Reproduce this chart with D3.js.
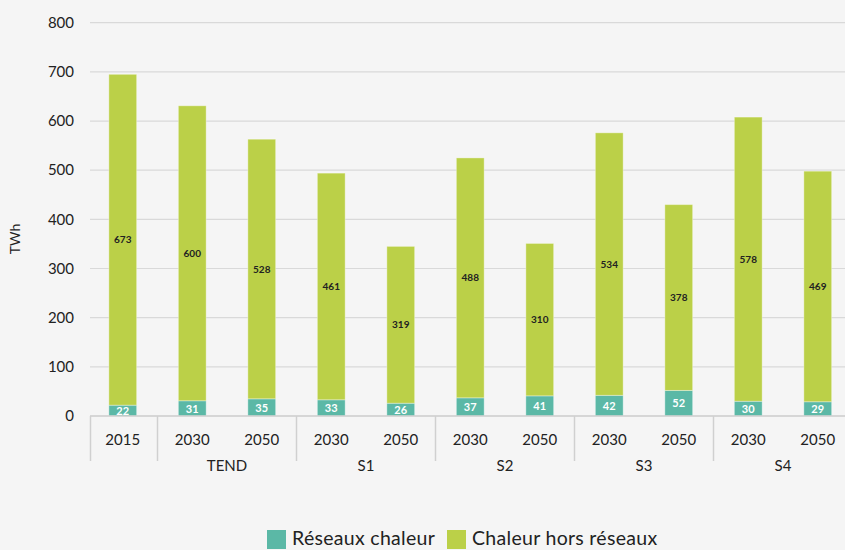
<!DOCTYPE html>
<html><head><meta charset="utf-8">
<script src="https://cdn.jsdelivr.net/npm/d3@7/dist/d3.min.js"></script>
<style>
html,body{margin:0;padding:0;background:#f5f5f5;}
svg{display:block;font-family:Lato, "Open Sans", sans-serif;}
</style></head>
<body><svg id="chart" width="845" height="550"></svg>
<script>
const years = ["2015","2030","2050","2030","2050","2030","2050","2030","2050","2030","2050"];
const groups = ["","TEND","TEND","S1","S1","S2","S2","S3","S3","S4","S4"];
const reseaux = [22,31,35,33,26,37,41,42,52,30,29];
const horsReseaux = [673,600,528,461,319,488,310,534,378,578,469];
const yTicks = [0,100,200,300,400,500,600,700,800];
const seriesNames = ["Réseaux chaleur","Chaleur hors réseaux"];
const colors = ["#5bb8a6","#bbd048"];

const svg = d3.select("#chart");
const ids = years.map((d,i)=>i);
const x = d3.scaleBand().domain(ids).range([88,852.5]).paddingInner(0.6).paddingOuter(0.3);
const y = d3.scaleLinear().domain([0,800]).range([416,22.7]);
const gridLeft = 90, gridRight = 845;

// gridlines
svg.append("g").selectAll("line").data(yTicks).join("line")
  .attr("x1",gridLeft).attr("x2",gridRight)
  .attr("y1",d=>y(d)).attr("y2",d=>y(d))
  .attr("stroke","#d9d9d9").attr("stroke-width",1.2);

// y labels
svg.append("g").selectAll("text").data(yTicks).join("text")
  .attr("x",74).attr("y",d=>y(d)).attr("dy","0.35em")
  .attr("text-anchor","end").attr("font-size",15).attr("fill","#222")
  .text(d=>d);

svg.append("text").attr("transform","translate(20,"+y(360)+") rotate(-90)")
  .attr("text-anchor","middle").attr("font-size",14).attr("fill","#222").text("TWh");

// stacked bars
const data = ids.map(i=>({i, r:reseaux[i], h:horsReseaux[i]}));
const bars = svg.append("g");
bars.selectAll("rect.r").data(data).join("rect").attr("class","r")
  .attr("x",d=>x(d.i)).attr("width",x.bandwidth())
  .attr("y",d=>y(d.r)).attr("height",d=>y(0)-y(d.r))
  .attr("fill",colors[0]).attr("stroke","rgba(255,255,255,0.35)").attr("stroke-width",1);
bars.selectAll("rect.h").data(data).join("rect").attr("class","h")
  .attr("x",d=>x(d.i)).attr("width",x.bandwidth())
  .attr("y",d=>y(d.r+d.h)).attr("height",d=>y(d.r)-y(d.r+d.h))
  .attr("fill",colors[1]).attr("stroke","rgba(255,255,255,0.35)").attr("stroke-width",1);

// labels
bars.selectAll("text.r").data(data).join("text").attr("class","r")
  .attr("x",d=>x(d.i)+x.bandwidth()/2).attr("y",d=>y(d.r/2)).attr("dy","0.38em")
  .attr("text-anchor","middle").attr("font-size",11).attr("font-weight",700).attr("fill","#fff")
  .text(d=>d.r);
bars.selectAll("text.h").data(data).join("text").attr("class","h")
  .attr("x",d=>x(d.i)+x.bandwidth()/2).attr("y",d=>y(d.r+d.h/2)).attr("dy","0.35em")
  .attr("text-anchor","middle").attr("font-size",10).attr("font-weight",700).attr("fill","#222")
  .text(d=>d.h);

// baseline
svg.append("line").attr("x1",gridLeft).attr("x2",gridRight).attr("y1",y(0)).attr("y2",y(0))
  .attr("stroke","#d0d0d0").attr("stroke-width",1.5);

// x axis year labels
svg.append("g").selectAll("text").data(ids).join("text")
  .attr("x",i=>x(i)+x.bandwidth()/2).attr("y",440).attr("dy","0.35em")
  .attr("text-anchor","middle").attr("font-size",15).attr("fill","#222")
  .text(i=>years[i]);

// group separators and labels
const step = x.step();
const groupInfo = [];
ids.forEach(i=>{
  const g = groups[i];
  const last = groupInfo[groupInfo.length-1];
  if(!last || last.name!==g) groupInfo.push({name:g,start:i,end:i});
  else last.end=i;
});
const bandStart = i=>x(i)-(step-x.bandwidth())/2;
const seps = groupInfo.map(g=>Math.max(bandStart(g.start),90.5)).concat([bandStart(groupInfo[groupInfo.length-1].end)+step]);
svg.append("g").selectAll("line").data(seps).join("line")
  .attr("x1",d=>d).attr("x2",d=>d).attr("y1",y(0)).attr("y2",461)
  .attr("stroke","#d0d0d0").attr("stroke-width",1.5);
svg.append("g").selectAll("text").data(groupInfo).join("text")
  .attr("x",g=>(bandStart(g.start)+bandStart(g.end)+step)/2).attr("y",466).attr("dy","0.35em")
  .attr("text-anchor","middle").attr("font-size",15).attr("fill","#222")
  .text(g=>g.name);

// legend
const leg = svg.append("g");
const legX = [267,447];
seriesNames.forEach((n,k)=>{
  leg.append("rect").attr("x",legX[k]).attr("y",530).attr("width",19).attr("height",19).attr("fill",colors[k]);
  leg.append("text").attr("x",legX[k]+25).attr("y",545).attr("font-size",19.5).attr("letter-spacing",0.3).attr("fill","#222").text(n);
});
</script></body></html>
